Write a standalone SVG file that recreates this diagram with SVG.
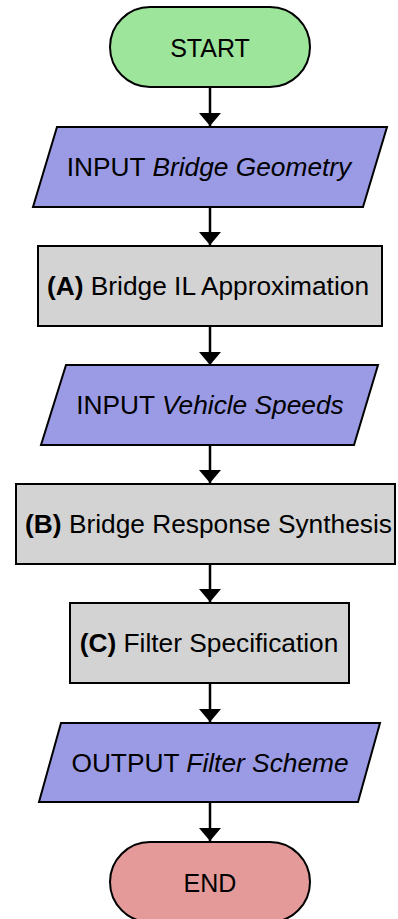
<svg xmlns="http://www.w3.org/2000/svg" width="398" height="919" viewBox="0 0 398 919">
<defs>
<marker id="ah" markerWidth="13" markerHeight="22" refX="13" refY="11" orient="auto" markerUnits="userSpaceOnUse">
<path d="M0,0 L13,11 L0,22 Z" fill="#000"/>
</marker>
<style>
.n{stroke:#000;stroke-width:2}
.t{font-family:"Liberation Sans",Arial,sans-serif;font-size:26.3px;fill:#000;text-anchor:middle}
.term{fill:#9de59b}
.io{fill:#9b9be5}
.proc{fill:#d3d3d3}
.endc{fill:#e59a9a}
.c{stroke:#000;stroke-width:2.5;fill:none;marker-end:url(#ah)}
</style>
</defs>
<rect width="398" height="919" fill="#fff"/>
<g id="connectors">
<line class="c" x1="210" y1="87" x2="210" y2="126"/>
<line class="c" x1="210" y1="207" x2="210" y2="245"/>
<line class="c" x1="210" y1="326" x2="210" y2="365"/>
<line class="c" x1="210" y1="445" x2="210" y2="483"/>
<line class="c" x1="210" y1="564" x2="210" y2="602"/>
<line class="c" x1="210" y1="683" x2="210" y2="722"/>
<line class="c" x1="210" y1="802" x2="210" y2="841"/>
</g>
<g id="start">
<rect class="n term" x="110" y="7" width="200" height="80" rx="40" ry="40"/>
<text class="t" x="210" y="56.5" style="font-size:25px">START</text>
</g>
<g id="input-geometry">
<polygon class="n io" points="57,127 387,127 363,207 33,207"/>
<text class="t" x="209" y="176">INPUT <tspan font-style="italic">Bridge Geometry</tspan></text>
</g>
<g id="box-a">
<rect class="n proc" x="38" y="246" width="344" height="80"/>
<text class="t" x="208" y="295"><tspan font-weight="bold">(A)</tspan> Bridge IL Approximation</text>
</g>
<g id="input-speeds">
<polygon class="n io" points="66,365 378,365 354,445 41,445"/>
<text class="t" x="210" y="414">INPUT <tspan font-style="italic">Vehicle Speeds</tspan></text>
</g>
<g id="box-b">
<rect class="n proc" x="16" y="484" width="379" height="80"/>
<text class="t" x="208.5" y="533"><tspan font-weight="bold">(B)</tspan> Bridge Response Synthesis</text>
</g>
<g id="box-c">
<rect class="n proc" x="70" y="603" width="279" height="80"/>
<text class="t" x="209" y="652"><tspan font-weight="bold">(C)</tspan> Filter Specification</text>
</g>
<g id="output-scheme">
<polygon class="n io" points="61,723 380,723 358,802 39,802"/>
<text class="t" x="210" y="772">OUTPUT <tspan font-style="italic">Filter Scheme</tspan></text>
</g>
<g id="end">
<rect class="n endc" x="110" y="842" width="200" height="80" rx="40" ry="40"/>
<text class="t" x="210" y="891.5" style="font-size:25px">END</text>
</g>
</svg>
